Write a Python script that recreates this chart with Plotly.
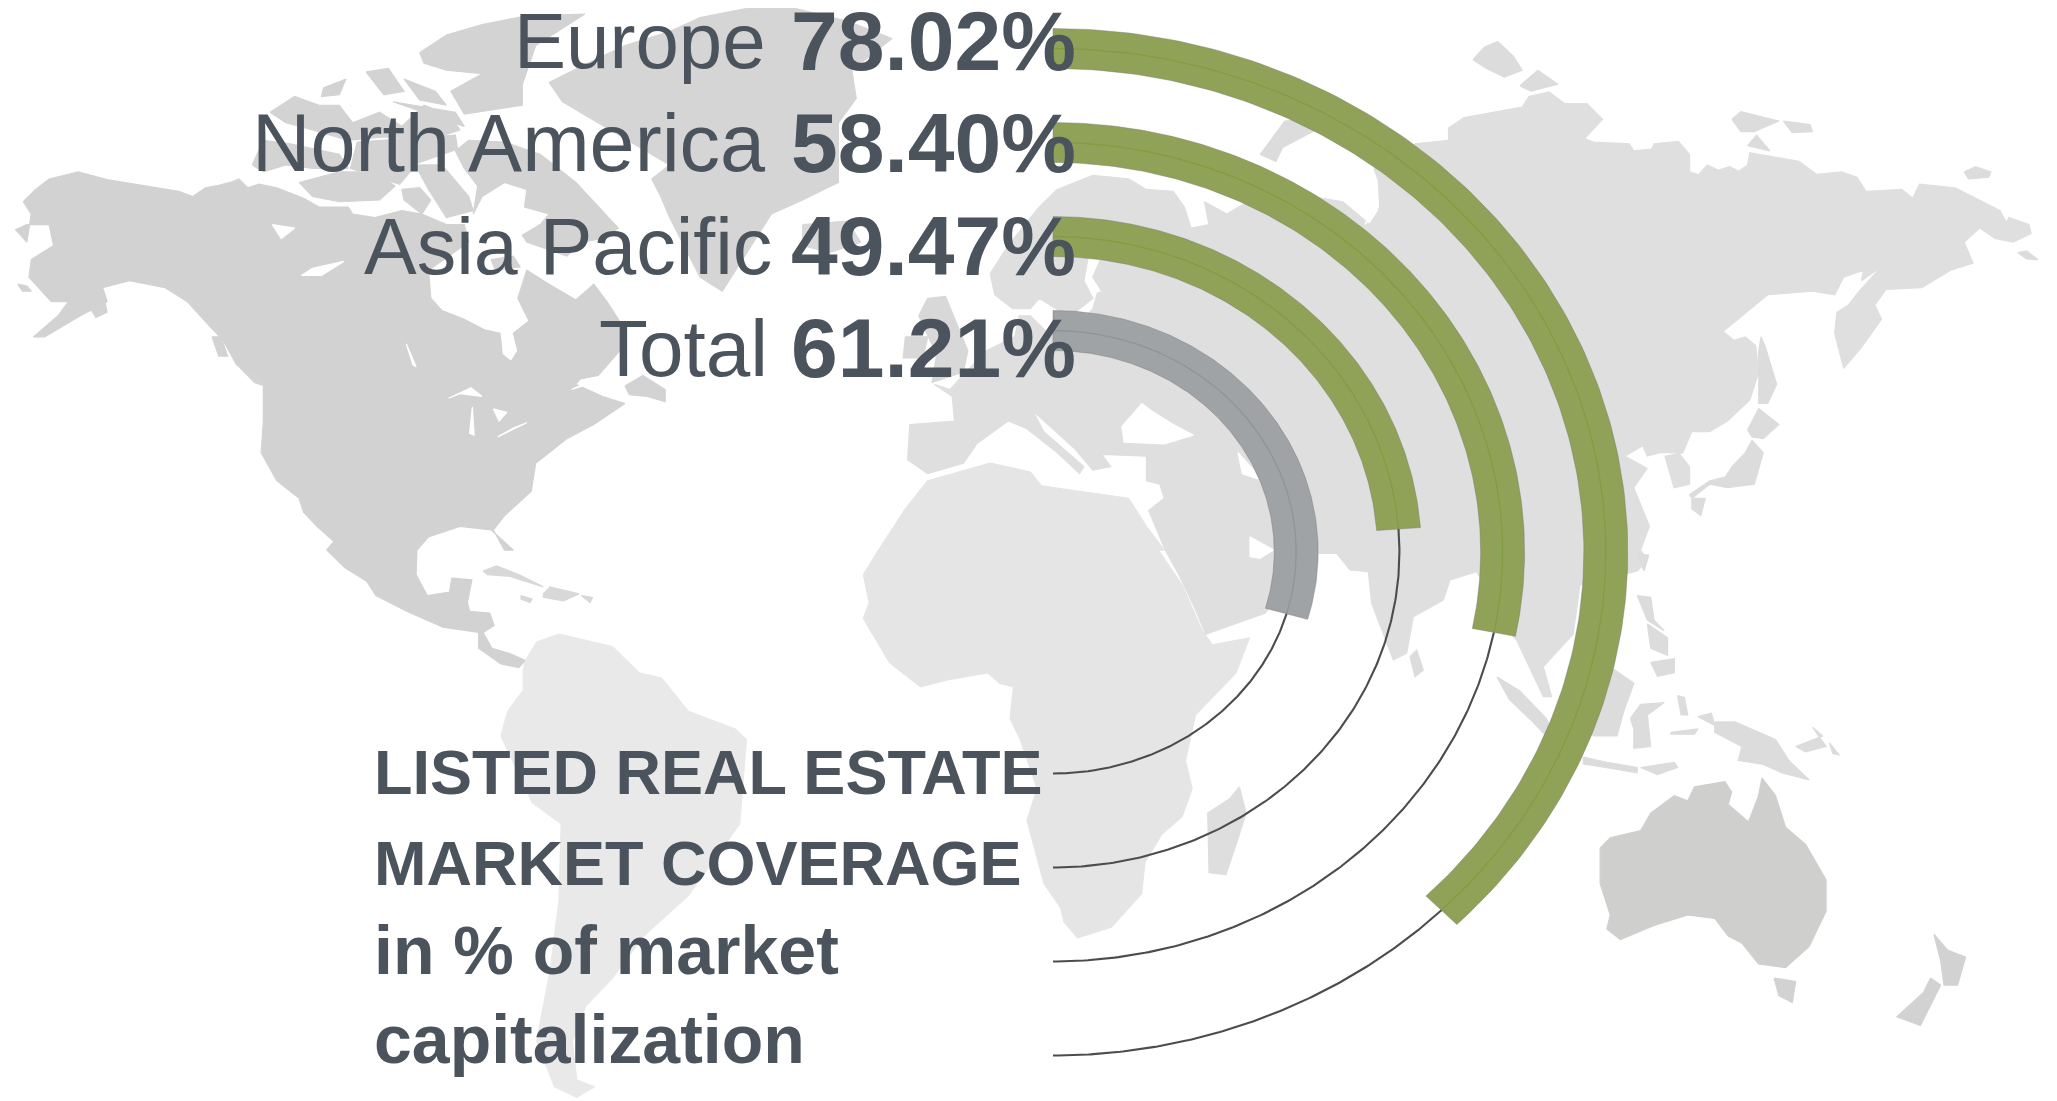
import math
import plotly.graph_objects as go

# ---------- chart data ----------
REGIONS = ["Europe", "North America", "Asia Pacific", "Total"]
VALUES = [78.02, 58.40, 49.47, 61.21]
VALUE_LABELS = ["78.02%", "58.40%", "49.47%", "61.21%"]
TITLE_LINES = ["LISTED REAL ESTATE", "MARKET COVERAGE", "in % of market", "capitalization"]

GREEN, GREEN_LINE = "#90a257", "#829c42"
GREY, GREY_LINE = "#9fa3a6", "#8f9498"
BAR_COLORS = [GREEN, GREEN, GREEN, GREY]
MID_COLORS = [GREEN_LINE, GREEN_LINE, GREEN_LINE, GREY_LINE]
TEXT = "#4b545c"

# ---------- backdrop map outlines (view, points) ----------
V = {"a": (0, 0, 2.24, 2.85), "b": (700, 0, 2.24, 2.85), "c": (1357, 0, 2.24, 2.85),
     "d": (300, 550, 2.24, 2.85), "e": (1000, 550, 1.483, 2.85), "f": (1250, 500, 3, 3)}

NORTH_AMERICA = [("a", [(52,575),(80,540),(110,510),(175,490),(240,512),(330,530),(400,545),(432,560),(460,535),(490,528),(520,518),(535,510),(555,535),(580,525),(620,535),(680,565),(715,590),(780,590),(790,610),(840,620),(900,600),(945,610),(1000,640),(1040,640),(1050,690),(960,770),(965,850),(990,885),(1040,910),(1085,940),(1120,950),(1125,1010),(1145,1030),(1160,1000),(1150,950),(1185,915),(1160,850),(1180,770),(1230,810),(1290,855),(1330,810),(1360,860),(1390,920),(1395,990),(1340,1070),(1300,1080),(1290,1095),(1350,1130),(1400,1150),(1330,1210),(1270,1250),(1200,1320),(1190,1400),(1130,1470),(1105,1510),(1130,1568),(1150,1568),(1100,1510),(1030,1500),(960,1530),(935,1568)]),
                 ("d", [(262,0),(260,70),(285,130),(335,120),(340,80),(385,85),(375,150),(380,175),(425,180),(435,215),(410,235),(430,280),(470,295),(505,315),(490,335),(450,325),(400,280),(400,235),(320,220),(240,175),(170,130),(150,90),(100,50),(60,0)]),
                 ("a", [(750,1540),(720,1460),(770,1568),(710,1500),(680,1460),(670,1420),(620,1370),(585,1290),(590,1200),(590,1090),(530,1040),(500,970),(470,930),(420,860),(370,820),(290,800),(230,820),(240,860),(180,900),(100,960),(75,960),(130,900),(170,830),(150,860),(115,860),(65,790),(70,740),(120,700),(110,640),(60,640),(35,655),(60,690),(70,610)])]
NA_ISLANDS = [
    ("a", [(1400,1100),(1440,1070),(1490,1110),(1490,1145),(1450,1130),(1410,1125)]),
    ("a", [(1020,430),(1050,400),(1130,405),(1210,440),(1290,520),(1385,650),(1350,680),(1300,690),(1270,730),(1180,690),(1170,670),(1210,640),(1230,610),(1175,590),(1180,540),(1130,520),(1080,560),(1060,610),(1070,530),(1040,480)]),
    ("a", [(670,520),(760,490),(840,490),(885,530),(850,570),(760,575),(700,560)]),
    ("a", [(565,470),(590,400),(650,410),(720,430),(760,440),(780,480),(700,480),(640,470),(590,490)]),
    ("a", [(605,320),(660,275),(715,300),(760,300),(790,350),(850,320),(900,360),(950,300),(1010,330),(1030,370),(960,400),(860,390),(780,400),(700,370),(640,350)]),
    ("a", [(800,405),(1020,385),(1025,425),(935,465),(895,525),(785,480)]),
    ("a", [(880,290),(1020,320),(1040,360),(960,325)]),
    ("a", [(900,540),(940,535),(965,570),(945,610),(905,570)]),
    ("a", [(930,470),(990,470),(1050,560),(1060,600),(1000,620),(960,540)]),
    ("a", [(940,150),(1000,100),(1080,70),(1180,45),(1310,40),(1200,130),(1170,240),(1170,300),(1040,325),(1010,260),(1080,210),(1000,200),(950,180)]),
    ("a", [(820,205),(870,195),(905,260),(860,270)]),
    ("a", [(905,225),(975,260),(1000,300),(940,285)]),
    ("a", [(725,250),(775,225),(760,270),(720,275)]),
    ("a", [(1100,740),(1150,730),(1165,760),(1110,770)]),
    ("a", [(475,960),(495,960),(510,1015),(490,1015)]),
    ("a", [(535,1045),(570,1060),(605,1105),(570,1090)]),
    ("a", [(40,810),(60,815),(70,830),(50,830)]),
    ("a", [(205,885),(235,860),(240,890),(215,905)]),
]
NA_WATER = [
    ("a", [(1005,1135),(1055,1105),(1080,1130),(1030,1122)]),
    ("a", [(1058,1160),(1062,1240),(1052,1235)]),
    ("a", [(1105,1165),(1135,1175),(1118,1200)]),
    ("a", [(1115,1245),(1180,1205),(1150,1220)]),
    ("a", [(610,640),(660,650),(630,680)]),
    ("a", [(910,980),(932,1045),(925,1040)]),
    ("a", [(675,785),(720,785),(770,745),(700,765)]),
    ("a", [(1280,1110),(1340,1075),(1370,1090),(1310,1098)]),
]
CARIBBEAN = [
    ("d", [(410,60),(440,45),(490,70),(545,105),(520,95),(470,75),(420,70)]),
    ("d", [(545,125),(560,105),(625,125),(590,145),(545,135)]),
    ("d", [(495,130),(520,140),(515,150),(495,140)]),
    ("d", [(630,130),(655,135),(650,150)]),
]
GREENLAND = [("a", [(1230,235),(1300,190),(1400,130),(1500,90),(1568,50)]),
             ("b", [(100,25),(200,20),(330,60),(430,110),(340,200),(350,280),(310,350),(310,520),(230,570),(160,610),(50,830),(0,790)]),
             ("a", [(1500,620),(1480,560),(1460,510),(1500,470),(1340,350),(1260,290)])]
ICELAND = [("b", [(230,640),(330,630),(360,690),(290,720),(230,700)])]
UK = [("b", [(510,850),(550,845),(600,1000),(590,1060),(520,1090),(530,1010),(490,900)])]
IRELAND = [("b", [(460,960),(510,960),(500,1020),(455,1020)])]
EURASIA = [("b", [(800,540),(760,590),(690,700),(650,780),(660,840),(700,880),(740,880),(760,850),(810,890),(790,930),(830,900),(880,850),(860,800),(870,730),(900,730),(880,790),(900,830),(950,810),(890,835),(880,880),(830,950),(780,950),(740,900),(715,900),(705,960),(640,1000),(560,1110),(525,1095),(565,1130),(570,1200),(470,1210),(465,1310),(510,1350),(590,1320),(620,1265),(690,1200),(730,1220),(800,1290),(850,1350),(860,1330),(770,1230),(745,1170),(840,1280),(880,1340),(920,1330),(900,1295),(1000,1300),(1000,1370),(1030,1380),(1040,1420),(1005,1455)]),
           ("e", [(245,0),(265,70),(290,170),(305,240)]),
           ("f", [(45,340),(205,160),(260,160),(300,210),(355,215),(365,310),(430,480),(470,460),(490,350),(580,300),(600,240),(680,215),(790,410),(800,420),(880,590),(905,590),(880,500)]),
           ("e", [(850,240),(860,100),(945,60),(960,30),(950,0)]),
           ("c", [(655,1500),(620,1390),(650,1335),(600,1300),(640,1270),(650,1300),(680,1290),(720,1290),(745,1330),(745,1380),(710,1390),(690,1300),(730,1290),(750,1230),(790,1230),(830,1200),(880,1140),(900,1060),(893,985),(870,960),(845,970),(820,945),(920,840),(1020,830),(1070,840),(1090,790),(1135,770),(1130,800),(1175,760),(1125,830),(1100,870),(1075,890),(1070,950),(1090,1050),(1130,990),(1175,910),(1160,870),(1185,825),(1265,820),(1330,770),(1380,750),(1360,690),(1395,650),(1430,680),(1470,690),(1510,665),(1505,640),(1460,620),(1455,635),(1440,600),(1340,535),(1260,525),(1245,565),(1220,540),(1140,545),(1120,505),(1085,490),(1030,497),(990,460),(880,435),(875,470),(855,488),(835,475),(810,485),(785,470),(765,498),(745,490),(745,440),(720,403),(665,410),(660,425),(620,430),(610,410),(530,405),(510,395),(550,340),(515,295),(465,295),(430,262),(385,275),(370,305),(240,335),(205,365),(205,400),(130,410)]),
           ("b", [(1510,480),(1520,600),(1500,640),(1440,575),(1300,545),(1220,580),(1180,610),(1130,575),(1140,640),(1100,650),(1085,590),(1060,545),(1000,540),(960,510),(880,500)])]
EURASIA_ISLANDS = [
    ("b", [(1255,440),(1310,345),(1360,340),(1380,370),(1305,420),(1290,460)]),
    ("c", [(260,170),(285,135),(315,118),(350,160),(370,200),(330,220),(290,195)]),
    ("c", [(365,245),(405,200),(450,240),(390,260)]),
    ("c", [(840,340),(860,318),(945,345),(890,375),(860,375)]),
    ("c", [(955,345),(1015,355),(1020,375),(975,378)]),
    ("c", [(875,415),(895,385),(925,430)]),
    ("c", [(1360,490),(1385,475),(1420,490),(1415,505),(1370,510)]),
    ("c", [(1480,720),(1500,715),(1525,740),(1500,738)]),
    ("c", [(905,960),(915,990),(940,1095),(920,1150),(900,1150),(900,1000)]),
    ("c", [(875,1225),(900,1165),(945,1210),(910,1250),(885,1245)]),
    ("c", [(885,1255),(910,1290),(890,1380),(830,1390),(790,1380),(750,1420),(745,1410),(790,1370),(825,1360),(840,1330),(870,1290)]),
    ("c", [(750,1420),(780,1420),(770,1470),(750,1450)]),
    ("f", [(480,470),(500,450),(520,510),(495,530)]),
    ("e", [(945,10),(962,15),(955,60)]),
    ("e", [(945,130),(965,135),(970,200),(985,230),(960,200)]),
    ("e", [(960,210),(990,250),(990,300),(965,280)]),
    ("e", [(965,320),(1000,310),(1000,350),(975,360)]),
    ("e", [(737,362),(770,400),(810,480),(835,570),(815,540),(790,490),(755,425)]),
    ("e", [(865,590),(900,605),(945,620),(945,635),(900,620),(865,610)]),
    ("e", [(950,620),(1000,605),(1005,620),(975,640)]),
    ("e", [(910,340),(940,380),(925,460),(915,530),(880,530),(850,470),(880,420)]),
    ("e", [(935,480),(950,440),(985,435),(960,470),(965,560),(940,565),(940,510)]),
    ("e", [(1005,415),(1015,420),(1020,470),(1010,470)]),
    ("e", [(1035,475),(1055,465),(1060,500)]),
    ("e", [(995,520),(1035,510),(1030,525),(995,525)]),
    ("e", [(1060,490),(1090,490),(1150,540),(1170,600),(1200,655),(1160,635),(1130,610),(1095,600),(1100,560),(1060,520)]),
    ("e", [(1180,560),(1220,530),(1205,505),(1225,560),(1195,575)]),
    ("e", [(1230,550),(1245,585),(1235,580)]),
]
EURASIA_WATER = [
    ("b", [(945,1215),(990,1150),(1010,1170),(1060,1210),(1105,1240),(1040,1265),(950,1260)]),
    ("b", [(1205,1290),(1240,1340),(1250,1365),(1215,1350)]),
    ("f", [(0,110),(70,150),(30,175),(0,170)]),
    ("c", [(35,480),(45,515),(48,590),(18,640),(35,590),(35,530)]),
]
AFRICA = [("b", [(400,1568),(460,1450),(510,1370),(650,1320),(740,1345),(765,1385),(960,1420),(1000,1500),(1040,1568)]),
          ("e", [(235,0),(270,100),(300,230),(315,270),(370,250),(350,350),(290,470),(275,600),(285,680),(270,760),(240,810),(215,890),(210,980),(165,1075),(115,1105),(95,1060),(90,1020),(65,950),(40,770),(55,680),(30,540),(15,480),(20,390),(0,380)]),
          ("d", [(1540,350),(1450,370),(1390,390),(1320,320),(1262,195),(1275,150),(1262,70)])]
MADAGASCAR = [("e", [(355,675),(365,750),(350,840),(335,925),(310,920),(308,750),(340,710)])]
SOUTH_AMERICA = [("d", [(505,315),(530,262),(580,240),(700,275),(760,350),(810,365),(870,460),(975,510),(1000,540),(990,700),(985,780),(870,985),(770,1100),(700,1220),(640,1300),(610,1400),(620,1510),(660,1530),(620,1560),(570,1530),(530,1400),(560,1200),(580,1000),(585,780),(520,720),(450,530),(465,460),(500,400),(500,340)])]
AUSTRALIA = [("e", [(890,850),(905,820),(950,800),(965,750),(1000,700),(1020,715),(1030,675),(1075,660),(1085,690),(1080,725),(1110,775),(1125,700),(1130,650),(1150,700),(1165,790),(1195,840),(1225,940),(1225,1030),(1200,1130),(1165,1190),(1125,1180),(1100,1120),(1080,1100),(1060,1050),(1020,1040),(970,1070),(920,1110),(900,1080),(905,1040),(890,950)])]
AUS_ISLANDS = [
    ("e", [(1148,1220),(1180,1230),(1175,1290),(1155,1270)]),
    ("e", [(1385,1095),(1405,1140),(1432,1160),(1420,1240),(1400,1240),(1395,1170)]),
    ("e", [(1380,1220),(1395,1240),(1365,1355),(1330,1330),(1370,1260)]),
]

def outline(segments):
    xs, ys = [], []
    for view, pts in segments:
        ox, oy, sx, sy = V[view]
        xs += [ox + p[0] / sx for p in pts]
        ys += [oy + p[1] / sy for p in pts]
    return xs + [xs[0]], ys + [ys[0]]

def islands(segments):
    xs, ys = [], []
    for seg in segments:
        x, y = outline([seg])
        xs += x + [None]
        ys += y + [None]
    return xs, ys

fig = go.Figure()

def land(xy, color):
    fig.add_trace(go.Scatter(x=xy[0], y=xy[1], mode="lines", fill="toself", fillcolor=color,
                             line=dict(color=color, width=1.2), hoverinfo="skip", showlegend=False))

land(outline(GREENLAND), "#d5d5d5")
land(islands(ICELAND), "#d8d8d8")
land(outline(NORTH_AMERICA), "#d1d2d1")
land(islands(NA_ISLANDS), "#d2d3d2")
land(islands(NA_WATER), "#ffffff")
land(islands(CARIBBEAN), "#d8d8d8")
land(outline(AFRICA), "#e5e5e5")
land(islands(MADAGASCAR), "#dedede")
land(outline(EURASIA), "#dfdfdf")
land(islands(EURASIA_ISLANDS), "#dcdcdc")
land(islands(EURASIA_WATER), "#ffffff")
land(islands(UK), "#d8d8d8")
land(islands(IRELAND), "#d8d8d8")
land(outline(SOUTH_AMERICA), "#e9e9e9")
land(outline(AUSTRALIA), "#cfcfce")
land(islands(AUS_ISLANDS), "#d2d2d2")

# ---------- radial bars (slightly elliptical rings) ----------
CX, CY = 1053.0, 552.0
INNER_R, RING_STEP, HALF_BAND, STRETCH = 221.5, 94.0, 20.0, 1.098
DEG_PER_PCT = 1.735

def ring(radius, a0, a1, n=160):
    out_x, out_y = [], []
    for k in range(n + 1):
        t = math.radians(a0 + (a1 - a0) * k / n)
        out_x.append(CX + STRETCH * radius * math.sin(t))
        out_y.append(CY - radius * math.cos(t))
    return out_x, out_y

for i, (value, bar, mid) in enumerate(zip(VALUES, BAR_COLORS, MID_COLORS)):
    r = INNER_R + RING_STEP * (len(VALUES) - 1 - i)
    end = value * DEG_PER_PCT
    ox, oy = ring(r + HALF_BAND, 0, end)
    ix, iy = ring(r - HALF_BAND, end, 0)
    fig.add_trace(go.Scatter(x=ox + ix + [ox[0]], y=oy + iy + [oy[0]], mode="lines", fill="toself",
                             fillcolor=bar, line=dict(color="rgba(110,115,110,0.4)", width=1),
                             hoverinfo="skip", showlegend=False))
    mx, my = ring(r, 0, end)
    fig.add_trace(go.Scatter(x=mx, y=my, mode="lines", line=dict(color=mid, width=1.3),
                             hoverinfo="skip", showlegend=False))
    lx, ly = ring(r, end, 180)
    fig.add_trace(go.Scatter(x=lx, y=ly, mode="lines", line=dict(color="#4a4c4e", width=2.1),
                             hoverinfo="skip", showlegend=False))

# ---------- text ----------
ann = []
ROW_Y = [41, 143, 246, 348]
LABEL_RIGHT = [767, 767, 773, 769]
LABEL_SIZES = [78, 81, 79, 80]
for name, lab, y, xr, size in zip(REGIONS, VALUE_LABELS, ROW_Y, LABEL_RIGHT, LABEL_SIZES):
    ann.append(dict(x=xr, y=y, text=name, xanchor="right", yanchor="middle", showarrow=False, borderpad=0,
                    font=dict(family="Liberation Sans", size=size, color=TEXT)))
    ann.append(dict(x=1077, y=y, text=f"<b>{lab}</b>", xanchor="right", yanchor="middle", showarrow=False, borderpad=0,
                    font=dict(family="Liberation Sans", size=84, color=TEXT)))
TITLE_SIZES = [63, 63, 68, 68]
for line, y, size in zip(TITLE_LINES, [772, 863, 950, 1039], TITLE_SIZES):
    ann.append(dict(x=373, y=y, text=f"<b>{line}</b>", xanchor="left", yanchor="middle", showarrow=False, borderpad=0,
                    font=dict(family="Liberation Sans", size=size, color=TEXT)))

# The page adds an 8px body margin, so the figure covers the remaining area.
fig.update_layout(width=2049, height=1093, margin=dict(l=0, r=0, t=0, b=0),
                  paper_bgcolor="white", plot_bgcolor="white", showlegend=False, annotations=ann,
                  xaxis=dict(range=[8, 2057], visible=False, fixedrange=True),
                  yaxis=dict(range=[1101, 8], visible=False, fixedrange=True))
fig.write_html("out.html", config={"displayModeBar": False})
